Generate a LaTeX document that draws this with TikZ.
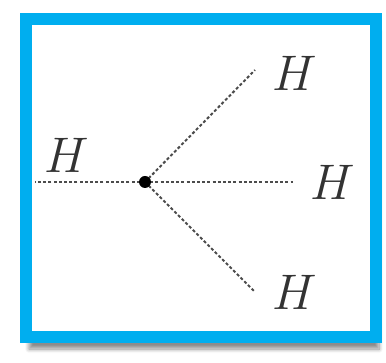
\RequirePackage{fix-cm}
\documentclass[tikz,border=0pt]{standalone}
\usetikzlibrary{shadows,shadows.blur}
\definecolor{framecyan}{HTML}{00AEEF}
\tikzset{
  bond/.style={line width=2pt, dash pattern=on 3pt off 2.2pt, draw=black!70},
  atom/.style={font=\fontsize{50}{50}\selectfont, text=black!80, inner sep=0pt},
  frame/.style={draw=framecyan, line width=12pt, fill=white,
    blur shadow={shadow xshift=3pt, shadow yshift=-12pt, shadow blur steps=8, shadow blur radius=4pt, shadow opacity=45}}
}
\begin{document}
\begin{tikzpicture}[x=1pt,y=-1pt]
\useasboundingbox (0,0) rectangle (386,363);
\path[frame] (26,19.5) rectangle (376,337);
\coordinate (c) at (145,182);
\coordinate (eu) at (255,70);
\coordinate (er) at (293,182);
\coordinate (ed) at (255,292);
\coordinate (el) at (35,182);
\node[atom] (hu) at (295,73) {$H$};
\node[atom] (hr) at (333,182) {$H$};
\node[atom] (hd) at (295,292) {$H$};
\node[atom] (hl) at (67,155) {$H$};
\draw[bond] (c) -- (eu);
\draw[bond] (c) -- (er);
\draw[bond] (c) -- (ed);
\draw[bond] (c) -- (el);
\fill[black] (c) circle (6pt);
\end{tikzpicture}
\end{document}
